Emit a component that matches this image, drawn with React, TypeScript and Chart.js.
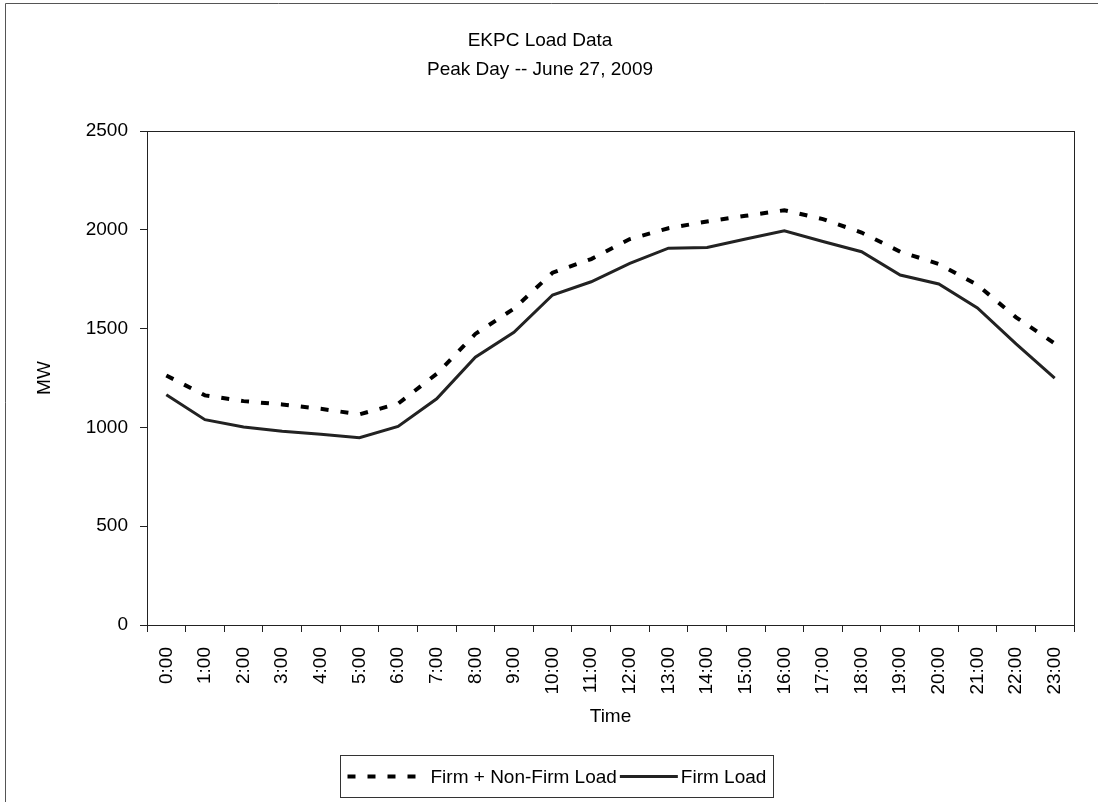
import { useEffect, useRef } from "react";
import { Chart, registerables } from "chart.js";

Chart.register(...registerables);

const FONT = "'Liberation Sans', Arial, sans-serif";

const hours = [
  "0:00", "1:00", "2:00", "3:00", "4:00", "5:00", "6:00", "7:00",
  "8:00", "9:00", "10:00", "11:00", "12:00", "13:00", "14:00", "15:00",
  "16:00", "17:00", "18:00", "19:00", "20:00", "21:00", "22:00", "23:00",
];

const firmPlusNonFirmLoad = [
  1263, 1162, 1133, 1116, 1094, 1066, 1120, 1271, 1473, 1601, 1783, 1852,
  1953, 2008, 2042, 2071, 2099, 2054, 1986, 1889, 1827, 1721, 1557, 1425,
];

const firmLoad = [
  1165, 1039, 1002, 981, 965, 948, 1005, 1145, 1355, 1481, 1670, 1737,
  1830, 1907, 1911, 1953, 1995, 1941, 1889, 1771, 1726, 1605, 1423, 1249,
];

const titleLines = ["EKPC Load Data", "Peak Day -- June 27, 2009"];
const seriesNames = ["Firm + Non-Firm Load", "Firm Load"];
const yAxisName = "MW";
const xAxisName = "Time";

const decorPlugin = {
  id: "decor",
  beforeDraw(chart: any) {
    const { ctx, width, height } = chart;
    ctx.save();
    ctx.fillStyle = "#fff";
    ctx.fillRect(0, 0, width, height);
    ctx.strokeStyle = "#555";
    ctx.lineWidth = 1;
    ctx.beginPath();
    ctx.moveTo(5.5, height);
    ctx.lineTo(5.5, 3.5);
    ctx.lineTo(width, 3.5);
    ctx.stroke();
    ctx.restore();
  },
  beforeDatasetsDraw(chart: any) {
    const { ctx, chartArea } = chart;
    ctx.save();
    ctx.strokeStyle = "#222";
    ctx.lineWidth = 1;
    ctx.strokeRect(
      Math.round(chartArea.left) + 0.5,
      Math.round(chartArea.top) + 0.5,
      Math.round(chartArea.right - chartArea.left),
      Math.round(chartArea.bottom - chartArea.top)
    );
    ctx.restore();
  },
  afterDraw(chart: any) {
    const { ctx } = chart;
    const ds = chart.data.datasets;
    ctx.save();
    ctx.font = `19px ${FONT}`;
    const sampleW = [80, 58];
    const gap = 3;
    const pad = 7;
    const widths = ds.map((d: any) => ctx.measureText(d.label).width);
    let total = pad * 2;
    ds.forEach((_: any, i: number) => {
      total += sampleW[i] + gap + widths[i] + (i < ds.length - 1 ? gap : 0);
    });
    const cx = 556;
    const top = 755.5;
    const h = 42;
    const left = Math.round(cx - total / 2) + 0.5;
    ctx.strokeStyle = "#333";
    ctx.lineWidth = 1;
    ctx.strokeRect(left, top, Math.round(total), h);
    let x = left + pad;
    const y = top + h / 2;
    ds.forEach((d: any, i: number) => {
      ctx.save();
      ctx.strokeStyle = d.borderColor;
      ctx.lineWidth = d.borderWidth;
      ctx.setLineDash(d.borderDash || []);
      ctx.beginPath();
      ctx.moveTo(x, y);
      ctx.lineTo(x + sampleW[i], y);
      ctx.stroke();
      ctx.restore();
      x += sampleW[i] + gap;
      ctx.fillStyle = "#000";
      ctx.textBaseline = "middle";
      ctx.textAlign = "left";
      ctx.fillText(d.label, x, y + 1);
      x += widths[i] + gap;
    });
    ctx.restore();
  },
};

export default function App() {
  const canvasRef = useRef<HTMLCanvasElement | null>(null);

  useEffect(() => {
    document.body.style.margin = "0";
    const canvas = canvasRef.current;
    if (!canvas) return;
    const chart = new Chart(canvas, {
      type: "line",
      data: {
        labels: hours,
        datasets: [
          {
            label: seriesNames[0],
            data: firmPlusNonFirmLoad,
            borderColor: "#000",
            borderWidth: 4,
            borderDash: [8, 12],
            pointRadius: 0,
            fill: false,
            tension: 0,
          },
          {
            label: seriesNames[1],
            data: firmLoad,
            borderColor: "#222",
            borderWidth: 3,
            pointRadius: 0,
            fill: false,
            tension: 0,
          },
        ],
      },
      options: {
        animation: false,
        responsive: false,
        devicePixelRatio: 1,
        layout: { padding: { top: 27, left: 6, right: 24, bottom: 0 } },
        plugins: {
          legend: { display: false },
          tooltip: { enabled: false },
          title: {
            display: true,
            text: titleLines,
            color: "#000",
            font: { family: FONT, size: 19, weight: "normal", lineHeight: 1.5 },
            padding: { top: 0, bottom: 47 },
          },
        },
        scales: {
          x: {
            type: "category",
            offset: true,
            afterFit(scale: any) {
              scale.height = 177;
            },
            grid: {
              offset: true,
              drawOnChartArea: false,
              tickLength: 7,
              color: "#222",
            },
            border: { display: true, color: "#222" },
            ticks: {
              autoSkip: false,
              maxRotation: 90,
              minRotation: 90,
              padding: 15,
              color: "#000",
              font: { family: FONT, size: 19 },
            },
            title: {
              display: true,
              text: xAxisName,
              color: "#000",
              font: { family: FONT, size: 19 },
              padding: { top: 4, bottom: 74 },
            },
          },
          y: {
            min: 0,
            max: 2500,
            afterFit(scale: any) {
              scale.width = 141;
            },
            grid: {
              drawOnChartArea: false,
              tickLength: 7,
              color: "#222",
            },
            border: { display: true, color: "#222" },
            ticks: {
              stepSize: 500,
              padding: 12,
              color: "#000",
              font: { family: FONT, size: 19 },
              callback: (value: any) => String(value),
            },
            title: {
              display: true,
              text: yAxisName,
              color: "#000",
              font: { family: FONT, size: 19 },
              padding: { top: 27, bottom: 0 },
            },
          },
        },
      },
      plugins: [decorPlugin],
    });
    return () => chart.destroy();
  }, []);

  return (
    <canvas
      ref={canvasRef}
      width={1098}
      height={802}
      style={{ display: "block", width: 1098, height: 802 }}
    />
  );
}
